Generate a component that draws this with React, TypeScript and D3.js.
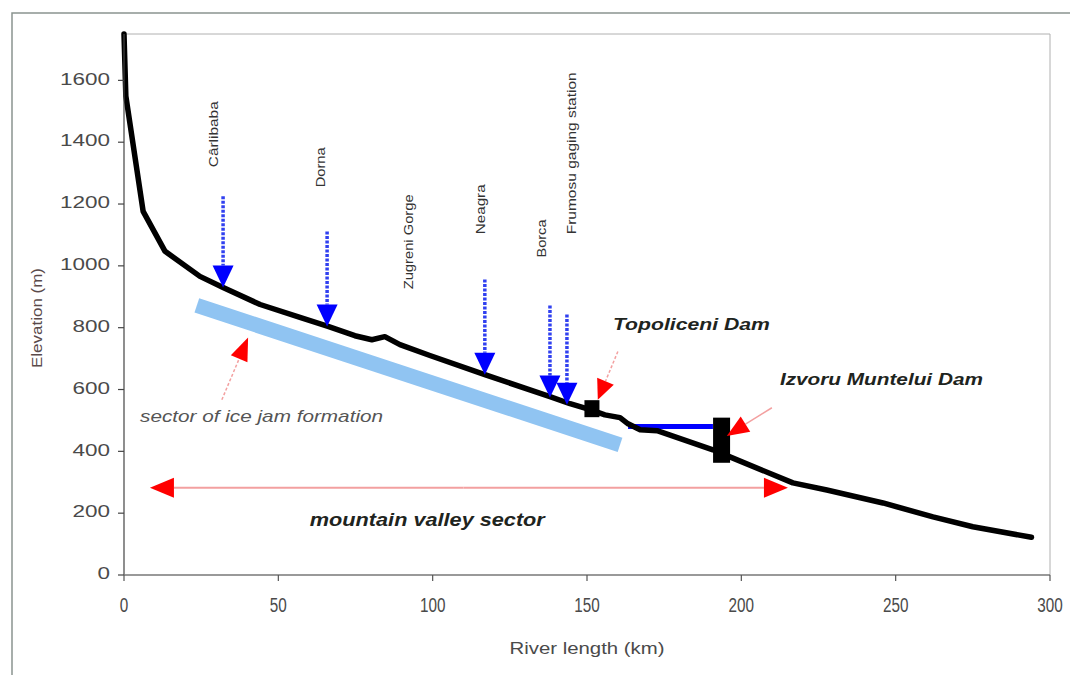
import React from "react";
import * as d3 from "d3";

// longitudinal profile
const riverKm = [0, 0.6, 6.2, 13.3, 24.6, 32.1, 44.1, 57, 66.1, 74.8, 80.3, 84.5, 89.4, 99.1, 116.9, 138, 144.5, 151, 155.8, 160.7, 163.3, 167.2, 172.7, 190.8, 196.3, 216.7, 227.7, 245.9, 262.1, 275, 294];
const riverElev = [1750, 1549, 1176, 1047, 966, 930, 875, 833, 804, 774, 761, 771, 745, 710, 648, 577, 554, 535, 518, 509, 489, 470, 467, 405, 382, 298, 275, 233, 188, 156, 122];

// tributaries / places along the river
const placeNames = ["Cârlibaba", "Dorna", "Zugreni Gorge", "Neagra", "Borca", "Frumosu gaging station"];
const placeLabelKm = [29.5, 64.1, 92.6, 116, 135.7, 145.4];
const placeLabelElev = [1319, 1254, 924, 1102, 1027, 1102];
const placeLabelLen = [66, 40, 95, 50, 38, 162];

const inflowKm = [32.1, 65.8, 116.9, 138, 143.5];
const inflowTop = [1225, 1111, 956, 872, 843];
const inflowTip = [930, 804, 648, 574, 551];

const xTicks = [0, 50, 100, 150, 200, 250, 300];
const yTicks = [0, 200, 400, 600, 800, 1000, 1200, 1400, 1600];

const W = 1070;
const H = 675;
const x = d3.scaleLinear().domain([0, 300]).range([124, 1050]);
const y = d3.scaleLinear().domain([0, 1750]).range([575, 34]);

const font = "'Liberation Sans', Arial, sans-serif";

function Arrow({ x1, y1, x2, y2, color, headColor, width, dash, len = 22, half = 10 }: any) {
  const a = Math.atan2(y2 - y1, x2 - x1);
  const bx = x2 - len * Math.cos(a);
  const by = y2 - len * Math.sin(a);
  const px = -Math.sin(a) * half;
  const py = Math.cos(a) * half;
  return (
    <g>
      <line x1={x1} y1={y1} x2={bx} y2={by} stroke={color} strokeWidth={width} strokeDasharray={dash} />
      <path d={`M${x2},${y2}L${bx + px},${by + py}L${bx - px},${by - py}Z`} fill={headColor} />
    </g>
  );
}

export default function App() {
  const profile = d3.line<number>().x((d, i) => x(riverKm[i])).y((d) => y(d))(riverElev);
  const x0 = x(0);
  const y0 = y(0);
  const yTop = y(1750);
  const xEnd = x(300);

  return (
    <svg width={W} height={H} style={{ position: "absolute", left: 0, top: 0, background: "#fff" }} fontFamily={font}>
      <rect width={W} height={H} fill="#fff" />
      {/* outer frame */}
      <path d={`M12,${H}V13H${W}`} fill="none" stroke="#8a9490" strokeWidth={1.5} />
      {/* plot area border */}
      <path d={`M${x0},${yTop}H${xEnd}V${y0}`} fill="none" stroke="#b0b0b0" strokeWidth={1} />

      {/* ice jam sector band */}
      <line x1={x(23.6)} y1={y(872)} x2={x(160.7)} y2={y(421)} stroke="#90c4f2" strokeWidth={15} />

      {/* mountain valley double arrow */}
      <Arrow x1={x(110)} y1={y(282)} x2={x(8.4)} y2={y(282)} color="#f3a0a0" headColor="#ff0000" width={2} len={24} half={10} />
      <Arrow x1={x(110)} y1={y(282)} x2={x(215.1)} y2={y(282)} color="#f3a0a0" headColor="#ff0000" width={2} len={24} half={10} />

      {/* reservoir (Izvoru Muntelui lake) */}
      <line x1={x(163.3)} y1={y(480)} x2={x(190.8)} y2={y(480)} stroke="#0000ff" strokeWidth={5} />

      {/* river profile */}
      <path d={profile || ""} fill="none" stroke="#000" strokeWidth={5.5} strokeLinejoin="round" strokeLinecap="round" />

      {/* dams */}
      <rect x={x(151.6) - 7.5} y={y(538) - 8.5} width={15} height={17} fill="#000" />
      <rect x={x(193.6) - 8.5} y={y(509)} width={17} height={y(363) - y(509)} fill="#000" />

      {/* inflow arrows */}
      {inflowKm.map((k, i) => (
        <Arrow key={i} x1={x(k)} y1={y(inflowTop[i])} x2={x(k)} y2={y(inflowTip[i])} color="#3040f0" headColor="#0000ff" width={3.5} dash="3 1.5" len={22} half={10.5} />
      ))}

      {/* place labels */}
      {placeNames.map((n, i) => (
        <text
          key={n}
          transform={`translate(${x(placeLabelKm[i])},${y(placeLabelElev[i])}) rotate(-90)`}
          dominantBaseline="middle"
          fontSize={12.5}
          fill="#333"
          textLength={placeLabelLen[i]}
          lengthAdjust="spacingAndGlyphs"
        >
          {n}
        </text>
      ))}

      {/* red pointer arrows */}
      <Arrow x1={x(31.7)} y1={y(567)} x2={x(40.2)} y2={y(768)} color="#f3a0a0" headColor="#ff0000" width={1.5} dash="3 2" len={23} half={9} />
      <Arrow x1={x(160)} y1={y(723)} x2={x(153.5)} y2={y(567)} color="#f3a0a0" headColor="#ff0000" width={1.5} dash="3 2" len={20} half={9} />
      <Arrow x1={x(209.9)} y1={y(541)} x2={x(195.3)} y2={y(450)} color="#f3a0a0" headColor="#ff0000" width={1.5} len={22} half={9} />

      {/* annotation texts */}
      <text x={x(158.4)} y={y(794)} fontSize={17} fontWeight="bold" fontStyle="italic" fill="#1e2420" textLength={157} lengthAdjust="spacingAndGlyphs">Topoliceni Dam</text>
      <text x={x(212.5)} y={y(616)} fontSize={17} fontWeight="bold" fontStyle="italic" fill="#1e2420" textLength={203} lengthAdjust="spacingAndGlyphs">Izvoru Muntelui Dam</text>
      <text x={x(5.2)} y={y(496)} fontSize={17} fontStyle="italic" fill="#555" textLength={243} lengthAdjust="spacingAndGlyphs">sector of ice jam formation</text>
      <text x={x(60.2)} y={y(159)} fontSize={19} fontWeight="bold" fontStyle="italic" fill="#1e2420" textLength={235} lengthAdjust="spacingAndGlyphs">mountain valley sector</text>

      {/* y axis */}
      <line x1={x0} y1={yTop} x2={x0} y2={y0} stroke="#444" strokeWidth={1.2} />
      {yTicks.map((t) => (
        <g key={t}>
          <line x1={x0 - 6} x2={x0} y1={y(t)} y2={y(t)} stroke="#444" strokeWidth={1.2} />
          <text x={110} y={y(t)} textAnchor="end" dominantBaseline="middle" fontSize={16} fill="#4a4a4a" textLength={String(t).length * 12.5} lengthAdjust="spacingAndGlyphs">{t}</text>
        </g>
      ))}
      <text transform={`translate(38,318) rotate(-90)`} textAnchor="middle" dominantBaseline="middle" fontSize={15} fill="#5a4a4a" textLength={100} lengthAdjust="spacingAndGlyphs">Elevation (m)</text>

      {/* x axis */}
      <line x1={x0} y1={y0} x2={xEnd} y2={y0} stroke="#777" strokeWidth={1.5} />
      {xTicks.map((t) => (
        <g key={t}>
          <line x1={x(t)} x2={x(t)} y1={y0} y2={y0 + 6} stroke="#555" strokeWidth={1.2} />
          <text x={x(t)} y={612} textAnchor="middle" fontSize={20} fill="#4a4a4a" textLength={String(t).length * 8.5} lengthAdjust="spacingAndGlyphs">{t}</text>
        </g>
      ))}
      <text x={587} y={654} textAnchor="middle" fontSize={17} fill="#4a4a4a" textLength={155} lengthAdjust="spacingAndGlyphs">River length (km)</text>
    </svg>
  );
}
